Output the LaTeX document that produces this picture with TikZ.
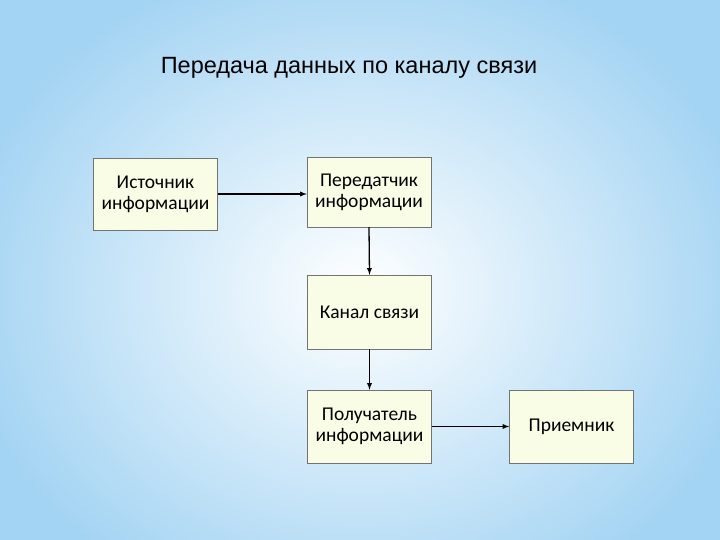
\documentclass[tikz,border=0pt]{standalone}
\usepackage{fontspec}
\setmainfont{Carlito}
\newfontfamily\titlefont{Liberation Sans}
\definecolor{bgblue}{HTML}{A4D4F3}
\definecolor{boxfill}{HTML}{FAFDE6}
\begin{document}
\begin{tikzpicture}[x=1pt,y=-1pt,
  bx/.style={draw=black!55,fill=boxfill,minimum width=124pt,minimum height=72pt,align=center,font=\fontsize{19.5}{21}\selectfont,inner sep=0pt},
  arr/.style={-latex,line width=1.3pt}]
\useasboundingbox (0,0) rectangle (720,540);
\fill[bgblue] (0,0) rectangle (720,540);
\shade[inner color=white,outer color=bgblue] (360,290) ellipse [x radius=400pt,y radius=340pt];
\node[font=\titlefont\fontsize{23.5}{26}\selectfont] (t) at (349,68) {Передача данных по каналу связи};
\node[bx] (a) at (155.5,194) {Источник\\информации};
\node[bx,minimum height=70pt] (b) at (369,192) {Передатчик\\информации};
\node[bx,minimum height=74pt] (c) at (369.5,312) {Канал связи};
\node[bx,minimum height=73pt] (d) at (369.5,426.5) {Получатель\\информации};
\node[bx,minimum height=73pt] (e) at (571.5,426.5) {Приемник};
\draw[arr] (a.east) -- (b.west |- a.east);
\draw[arr] (b.south) -- (c.north);
\draw[arr] (c.south) -- (d.north);
\draw[arr] (d.east) -- (e.west);
\end{tikzpicture}
\end{document}
